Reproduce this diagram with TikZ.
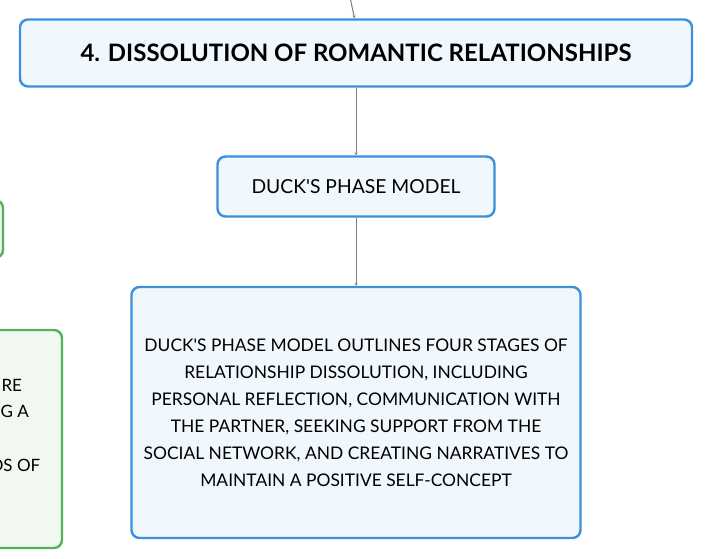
\documentclass[tikz,border=0pt]{standalone}
\usepackage{fontspec}
\setmainfont{Lato}
\usetikzlibrary{arrows.meta,positioning}

\definecolor{boxblue}{HTML}{3D8FDC}
\definecolor{fillblue}{HTML}{F0F7FD}
\definecolor{boxgreen}{HTML}{55B05A}
\definecolor{fillgreen}{HTML}{F0F8F1}
\definecolor{linkgray}{HTML}{7F7F7F}

\begin{document}
\begin{tikzpicture}[x=1pt,y=-1pt,
    topic/.style={draw=boxblue,fill=fillblue,line width=2.4pt,rounded corners=8pt,
      inner sep=0pt,align=center,text=black},
    side/.style={draw=boxgreen,fill=fillgreen,line width=2.4pt,rounded corners=8pt,inner sep=0pt},
    link/.style={draw=linkgray,line width=1pt,-{Stealth[length=3pt,width=3pt]}}]
      \useasboundingbox (0,0) rectangle (713,558);
      \clip (0,0) rectangle (713,558);

      % left side boxes, cut by the frame
      \node[side,minimum width=260pt,minimum height=58pt] (sideA) at (-127,229) {};
      \node[side,minimum width=262pt,minimum height=218pt] (sideB) at (-69,439) {};
      \node[anchor=west,font=\fontsize{17}{20}\selectfont] (sa) at (-2,385) {RE};
      \node[anchor=west,font=\fontsize{17}{20}\selectfont] (sb) at (-3,411) {G A};
      \node[anchor=west,font=\fontsize{17}{20}\selectfont] (sc) at (-13,465) {DS OF};

      % main branch
      \node[topic,minimum width=672pt,minimum height=67pt,
        font=\fontsize{24}{28}\selectfont\bfseries] (title) at (356,53)
        {4. DISSOLUTION OF ROMANTIC RELATIONSHIPS};
      \node[topic,minimum width=277pt,minimum height=60pt,
        font=\fontsize{19.3}{24}\selectfont] (phase) at (356,186.5) {DUCK\textquotesingle S PHASE MODEL};
      \node[topic,minimum width=449pt,minimum height=251pt,
        font=\fontsize{17.4}{27}\selectfont] (desc) at (356,412.5)
        {DUCK\textquotesingle S PHASE MODEL OUTLINES FOUR STAGES OF\\
         RELATIONSHIP DISSOLUTION, INCLUDING\\
         PERSONAL REFLECTION, COMMUNICATION WITH\\
         THE PARTNER, SEEKING SUPPORT FROM THE\\
         SOCIAL NETWORK, AND CREATING NARRATIVES TO\\
         MAINTAIN A POSITIVE SELF-CONCEPT};

      \coordinate (parent) at (350,-3);
      \draw[link] (parent) -- ([xshift=-1.5pt]title.north);
      \draw[link] (title) -- (phase);
      \draw[link] (phase) -- (desc);
\end{tikzpicture}
\end{document}
